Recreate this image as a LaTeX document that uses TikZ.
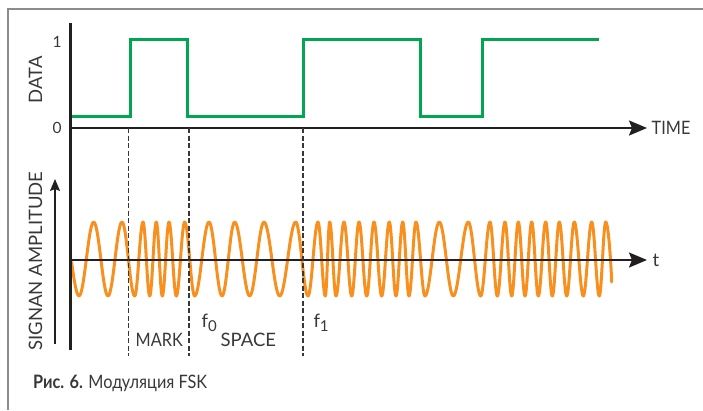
\documentclass[tikz,border=0pt]{standalone}
\usepackage{fontspec}
\setmainfont{Lato}
\newfontfamily\narrowfont[FakeStretch=0.88]{Lato}
\usetikzlibrary{arrows.meta}
\definecolor{dgreen}{HTML}{00A651}
\definecolor{orng}{HTML}{F7901E}
\definecolor{ink}{HTML}{231F20}
\definecolor{txt}{HTML}{3A3738}
\definecolor{framegray}{HTML}{8C8C8C}
\definecolor{dashgray}{HTML}{3A3738}
\begin{document}
\begin{tikzpicture}[x=1pt,y=-1pt,
  lbl/.style={font=\fontsize{18.5}{20}\selectfont, text=txt, inner sep=0pt},
  nlbl/.style={font=\narrowfont\fontsize{18.5}{20}\selectfont, text=txt, inner sep=0pt},
  dig/.style={font=\fontsize{15.5}{16}\selectfont, text=txt, inner sep=0pt},
  axisline/.style={draw=ink, line width=2pt},
  bigarrow/.style={axisline, -{Stealth[length=18pt,width=15pt,inset=3pt]}},
  smallarrow/.style={draw=ink, line width=1.2pt, -{Stealth[length=12pt,width=10pt,inset=2pt]}},
  dashline/.style={draw=dashgray, line width=1.2pt, dash pattern=on 5pt off 2.5pt},
  datasig/.style={draw=dgreen, line width=3pt},
  wavesig/.style={draw=orng, line width=3pt, line join=round, line cap=round},
  framestyle/.style={draw=framegray, line width=1.5pt}]
\useasboundingbox (0,0) rectangle (703,410);
% frame
\coordinate (fr1) at (703,9);
\coordinate (fr2) at (8,9);
\coordinate (fr3) at (8,410);
\draw[framestyle] (fr1) -- (fr2) -- (fr3);
% coordinates
\coordinate (vtop) at (70.5,23);
\coordinate (vbot) at (70.5,350);
\coordinate (o1) at (70.5,128);
\coordinate (e1) at (647,128);
\coordinate (o2) at (70.5,260);
\coordinate (e2) at (647,260);
\coordinate (ab) at (55,344);
\coordinate (at) at (55,179);
\coordinate (d1t) at (128.5,128);
\coordinate (d1b) at (128.5,356);
\coordinate (d2t) at (189,128);
\coordinate (d2b) at (189,356);
\coordinate (d3t) at (303,128);
\coordinate (d3b) at (303,356);
% data signal
\draw[datasig] (70.5,116) -- (130,116) -- (130,39.5) -- (187,39.5) -- (187,116)
  -- (303,116) -- (303,39.5) -- (420.7,39.5) -- (420.7,116) -- (482,116)
  -- (482,39.5) -- (598.7,39.5);
% FSK wave
\draw[wavesig] (71.5,262) .. controls (73.9,278) and (76.3,296) .. (79,296)
  \foreach \x [count=\i, remember=\x as \px (initially 79)] in
  {93.7,108,122,134.7,143,149.7,156.3,162.3,169,176.3,184.7,194.7,209,222,234.7,249.7,
   264,279.7,295.7,308,318,325.3,329.7,336,344,351.7,359,366.7,374,381.7,389.3,396,
   402.7,409,416,425,439.3,453.3,468.3,480.7,490,497.3,505,511.7,518.3,525,531.7,538.3,
   545.7,552.3,559.3,566.7,574.3,583.3,591.7,599.3,605.7}
  { .. controls ({\px+0.3634*(\x-\px)},{259-37*cos(180*\i)})
          and ({\x-0.3634*(\x-\px)},{259+37*cos(180*\i)}) .. (\x,{259+37*cos(180*\i)}) }
  .. controls (608.5,222) and (611.2,268) .. (611.7,282);
% axes
\draw[axisline, line width=2.5pt] (vtop) -- (vbot);
\draw[bigarrow] (o1) -- (e1);
\draw[bigarrow] (o2) -- (e2);
\draw[smallarrow] (ab) -- (at);
% dashed lines
\draw[dashline] (d1t) -- (d1b);
\draw[dashline] (d2t) -- (d2b);
\draw[dashline] (d3t) -- (d3b);
% labels
\node[nlbl, anchor=west] (time) at (651.5,127.5) {TIME};
\node[lbl, anchor=west] (tlab) at (652.5,260) {t};
\node[dig] (one) at (57,41.5) {1};
\node[dig] (zero) at (57,128) {0};
\node[lbl, rotate=90] (data) at (35.5,79.5) {DATA};
\node[lbl, rotate=90] (sa) at (35.5,261) {SIGNAN AMPLITUDE};
\node[nlbl, anchor=base west] (mark) at (135.5,346) {MARK};
\node[lbl, anchor=base west] (space) at (220.5,346) {SPACE};
\node[lbl, anchor=base west] (f0) at (201.5,327.7) {f\raisebox{-4pt}{\fontsize{15}{15}\selectfont 0}};
\node[lbl, anchor=base west] (f1) at (313.3,327.7) {f\raisebox{-4pt}{\fontsize{15}{15}\selectfont 1}};
\node[nlbl, anchor=base west] (caption) at (33,388.3) {\textbf{Рис. 6.} Модуляция FSK};
\end{tikzpicture}
\end{document}
